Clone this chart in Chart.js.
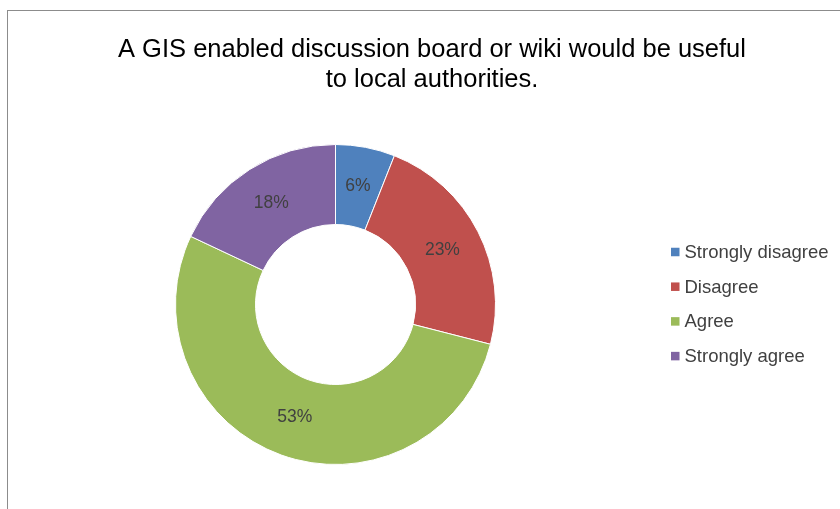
<!DOCTYPE html>
<html>
<head>
<meta charset="utf-8">
<script src="https://cdn.jsdelivr.net/npm/chart.js@4.4.0/dist/chart.umd.min.js"></script>
<style>
  html, body { margin: 0; padding: 0; background: #ffffff; }
  #wrap { position: relative; width: 840px; height: 509px; overflow: hidden; }
  #frame { position: absolute; left: 7px; top: 10px; width: 900px; height: 600px; border: 1px solid #8c8c8c; box-sizing: border-box; }
  #c { position: absolute; left: 0; top: 0; }
</style>
</head>
<body>
<div id="wrap">
  <div id="frame"></div>
  <canvas id="c" width="840" height="509"></canvas>
</div>
<script>
const titleLines = ["A GIS enabled discussion board or wiki would be useful", "to local authorities."];
const categories = ["Strongly disagree", "Disagree", "Agree", "Strongly agree"];
const values = [6, 23, 53, 18];
const colors = ["#4F81BD", "#C0504D", "#9BBB59", "#8064A2"];

const FONT = "'Liberation Sans', Arial, sans-serif";

const chartTitle = {
  id: 'chartTitle',
  afterDraw(chart) {
    const ctx = chart.ctx;
    ctx.save();
    ctx.font = "25.5px " + FONT;
    ctx.fillStyle = "#000000";
    ctx.textAlign = "center";
    ctx.textBaseline = "alphabetic";
    titleLines.forEach((t, i) => ctx.fillText(t, 432, 57 + i * 29.5));
    ctx.restore();
  }
};

const sliceLabels = {
  id: 'sliceLabels',
  afterDatasetsDraw(chart) {
    const ctx = chart.ctx;
    const meta = chart.getDatasetMeta(0);
    const data = chart.data.datasets[0].data;
    const total = data.reduce((a, b) => a + b, 0);
    ctx.save();
    ctx.font = "17.5px " + FONT;
    ctx.fillStyle = "#404040";
    ctx.textAlign = "center";
    ctx.textBaseline = "middle";
    meta.data.forEach((arc, i) => {
      const p = arc.tooltipPosition();
      ctx.fillText(Math.round(data[i] / total * 100) + "%", p.x, p.y);
    });
    ctx.restore();
  }
};

const sideLegend = {
  id: 'sideLegend',
  afterDraw(chart) {
    const ctx = chart.ctx;
    const labels = chart.data.labels;
    const bg = chart.data.datasets[0].backgroundColor;
    const x0 = 671, y0 = 252, step = 34.7, box = 8.5;
    ctx.save();
    ctx.font = "18.5px " + FONT;
    ctx.textBaseline = "middle";
    ctx.textAlign = "left";
    labels.forEach((lab, i) => {
      const y = y0 + i * step;
      ctx.fillStyle = bg[i];
      ctx.fillRect(x0, y - box / 2, box, box);
      ctx.fillStyle = "#404040";
      ctx.fillText(lab, x0 + 13.5, y + 1);
    });
    ctx.restore();
  }
};

new Chart(document.getElementById('c'), {
  type: 'doughnut',
  data: {
    labels: categories,
    datasets: [{
      data: values,
      backgroundColor: colors,
      borderColor: '#ffffff',
      borderWidth: 1,
      hoverOffset: 0
    }]
  },
  options: {
    responsive: false,
    animation: false,
    cutout: '50%',
    layout: { padding: { left: 0, right: 169, top: 144, bottom: 44 } },
    plugins: {
      legend: { display: false },
      tooltip: { enabled: false },
      title: { display: false }
    }
  },
  plugins: [chartTitle, sliceLabels, sideLegend]
});
</script>
</body>
</html>
